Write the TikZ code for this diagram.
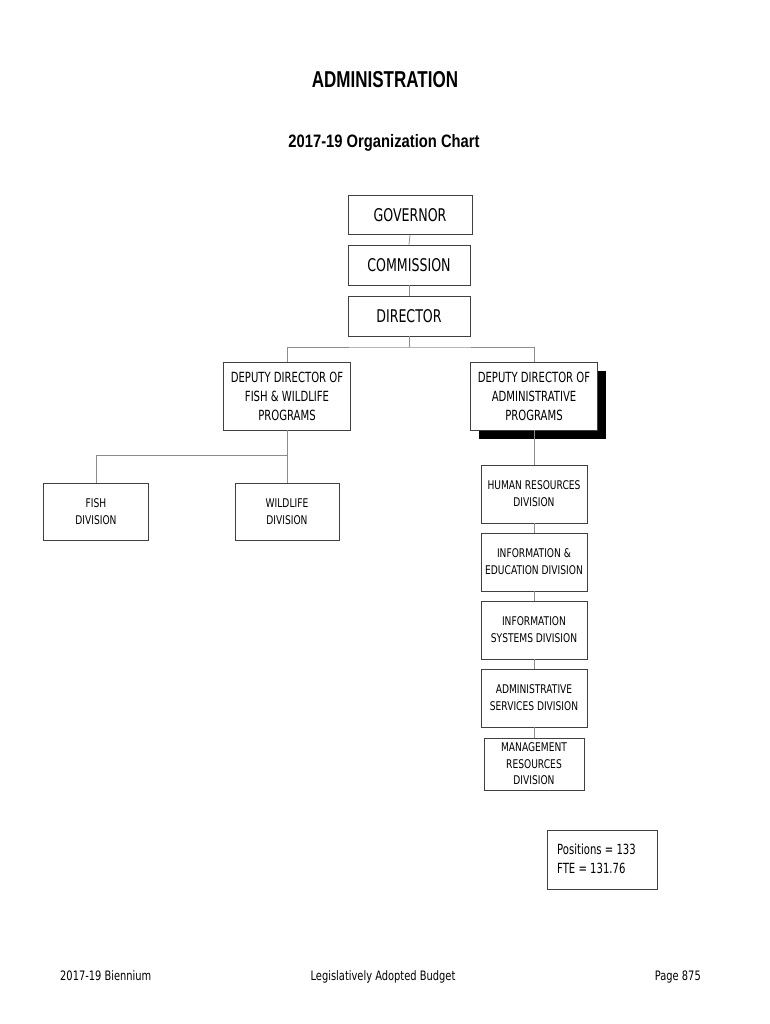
\documentclass[tikz,border=0pt]{standalone}
\usepackage{fontspec}
\usetikzlibrary{shadows}
\newfontfamily\titlefont{Liberation Sans}[FakeStretch=0.74]
\newfontfamily\subfont{Liberation Sans}[FakeStretch=0.82]
\newfontfamily\boxfont{DejaVu Sans}[FakeStretch=0.72]
\newfontfamily\smallfont{DejaVu Sans}[FakeStretch=0.76]
\begin{document}
\begin{tikzpicture}[x=1pt,y=-1pt,
  box/.style={draw=black!75, line width=0.8pt, fill=white, align=center, inner sep=0pt},
  bigbox/.style={box, font=\boxfont\fontsize{17.5}{20}\selectfont},
  ddbox/.style={box, minimum width=127, minimum height=68, font=\boxfont\fontsize{14}{19}\selectfont},
  divbox/.style={box, font=\smallfont\fontsize{12}{17}\selectfont},
  conn/.style={draw=black!45, line width=0.8pt},
  foot/.style={font=\smallfont\fontsize{13}{15}\selectfont, inner sep=0pt}]
\useasboundingbox[fill=white] (0,0) rectangle (770,1024);

\node[font=\titlefont\bfseries\fontsize{23}{26}\selectfont] (title) at (385,80) {ADMINISTRATION};
\node[font=\subfont\bfseries\fontsize{18}{20}\selectfont] (sub) at (384,143) {2017-19 Organization Chart};

\node[bigbox, minimum width=124, minimum height=39] (gov) at (410,215) {GOVERNOR};
\node[bigbox, minimum width=122, minimum height=40] (com) at (409,265) {COMMISSION};
\node[bigbox, minimum width=122, minimum height=40] (dir) at (409,316) {DIRECTOR};

\node[ddbox] (ddf) at (287,396) {DEPUTY DIRECTOR OF\\FISH \& WILDLIFE\\PROGRAMS};
\node[ddbox, general shadow={fill=black, shadow xshift=8pt, shadow yshift=-9pt}] (dda) at (534,396) {DEPUTY DIRECTOR OF\\ADMINISTRATIVE\\PROGRAMS};

\node[divbox, minimum width=105, minimum height=57] (fish) at (96,512) {FISH\\DIVISION};
\node[divbox, minimum width=104, minimum height=57] (wild) at (287,512) {WILDLIFE\\DIVISION};

\node[divbox, minimum width=106, minimum height=58] (hr) at (534,494) {HUMAN RESOURCES\\DIVISION};
\node[divbox, minimum width=106, minimum height=58] (ie) at (534,562) {INFORMATION \&\\EDUCATION DIVISION};
\node[divbox, minimum width=106, minimum height=58] (is) at (534,630) {INFORMATION\\SYSTEMS DIVISION};
\node[divbox, minimum width=106, minimum height=58] (as) at (534,698) {ADMINISTRATIVE\\SERVICES DIVISION};
\node[divbox, minimum width=100, minimum height=52, font=\smallfont\fontsize{12}{16.5}\selectfont] (mr) at (534,764) {MANAGEMENT\\RESOURCES\\DIVISION};

\node[box, minimum width=110, minimum height=59] (posbox) at (602,859.5) {};
\node[font=\boxfont\fontsize{14}{19}\selectfont, align=left, anchor=west, inner sep=0pt] (pos) at (557,859) {Positions = 133\\FTE = 131.76};

\coordinate (j1) at (409,347);
\coordinate (j2) at (287,455);
\draw[conn] (gov.south) -- (com.north);
\draw[conn] (com.south) -- (dir.north);
\draw[conn] (dir.south) -- (j1);
\draw[conn] (ddf.north) |- (j1) -| (dda.north);
\draw[conn] (ddf.south) -- (wild.north);
\draw[conn] (fish.north) |- (j2);
\draw[conn] (dda.south) -- (hr.north);
\draw[conn] (hr.south) -- (ie.north);
\draw[conn] (ie.south) -- (is.north);
\draw[conn] (is.south) -- (as.north);
\draw[conn] (as.south) -- (mr.north);

\node[foot, anchor=base west] (f1) at (60,980) {2017-19 Biennium};
\node[foot, anchor=base] (f2) at (383,980) {Legislatively Adopted Budget};
\node[foot, anchor=base east] (f3) at (701,980) {Page 875};
\end{tikzpicture}
\end{document}
